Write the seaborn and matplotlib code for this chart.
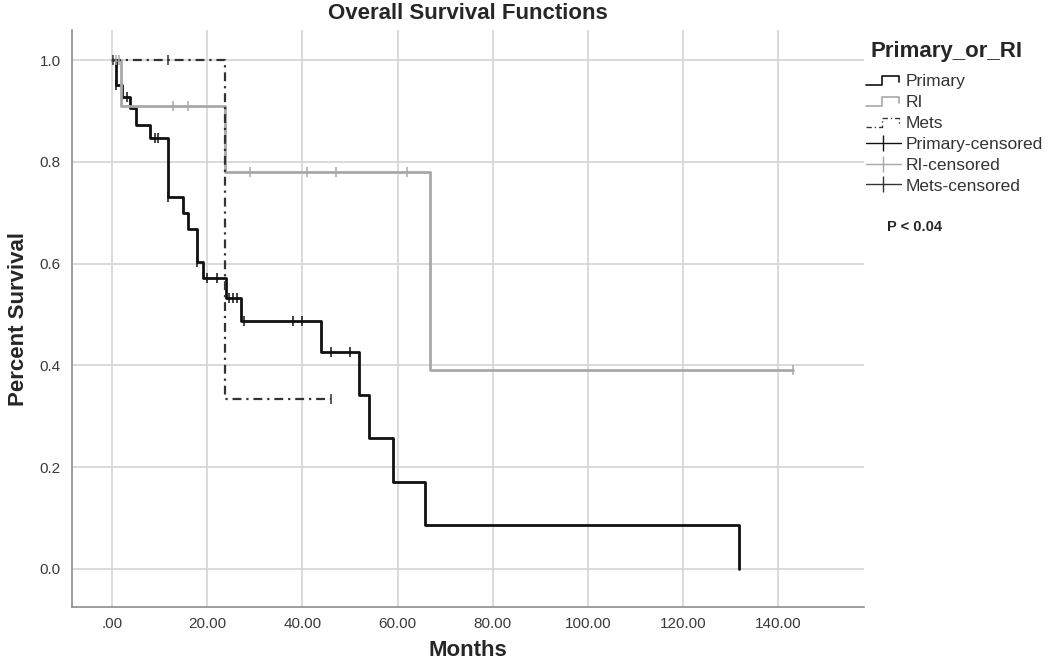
import numpy as np
import pandas as pd
import seaborn as sns
import matplotlib.pyplot as plt
from matplotlib.lines import Line2D
from matplotlib.legend_handler import HandlerBase

# Kaplan-Meier steps (time of drop, survival after drop)
primary_times = [0, 0.8, 2.0, 3.8, 5.0, 8.0, 11.8, 14.9, 16.0, 17.9, 19.1, 24.0, 27.1, 43.9, 51.9, 54.0, 59.0, 65.8, 131.7]
primary_surv = [1.0, 0.95, 0.928, 0.905, 0.872, 0.847, 0.73, 0.70, 0.668, 0.603, 0.572, 0.532, 0.487, 0.426, 0.342, 0.257, 0.171, 0.086, 0.0]
primary_censored = [0.8, 3.1, 9.0, 9.7, 11.8, 17.9, 20.0, 22.1, 24.6, 25.4, 26.3, 27.7, 38.0, 39.9, 46.0, 50.0]

ri_times = [0, 1.8, 23.8, 66.8]
ri_surv = [1.0, 0.91, 0.78, 0.39]
ri_censored = [0.9, 1.4, 12.8, 16.0, 29.0, 41.0, 47.0, 62.0, 143.0]

mets_times = [0, 23.8]
mets_surv = [1.0, 0.334]
mets_censored = [0.3, 11.7, 46.0]

x_ticks = [0, 20, 40, 60, 80, 100, 120, 140]
x_tick_labels = ['.00', '20.00', '40.00', '60.00', '80.00', '100.00', '120.00', '140.00']
y_ticks = [0.0, 0.2, 0.4, 0.6, 0.8, 1.0]

sns.set_style('white')
plt.rcParams['font.family'] = ['Liberation Sans', 'DejaVu Sans']


def step_frame(times, surv, censored):
    # extend the last step to the last censored time
    t = list(times)
    s = list(surv)
    if max(censored) > t[-1]:
        t.append(max(censored))
        s.append(s[-1])
    return pd.DataFrame({'Months': t, 'Survival': s})


def censor_frame(times, surv, censored):
    idx = np.searchsorted(times, censored, side='right') - 1
    return pd.DataFrame({'Months': censored, 'Survival': np.array(surv)[idx]})


groups = [
    ('Primary', primary_times, primary_surv, primary_censored, '#111111', '-', 2.0),
    ('RI', ri_times, ri_surv, ri_censored, '#a8a8a8', '-', 2.0),
    ('Mets', mets_times, mets_surv, mets_censored, '#333333', (0, (4.0, 2.2, 1.0, 2.2)), 1.6),
]

fig = plt.figure(figsize=(10.5, 6.61), dpi=100)
ax = fig.add_axes([0.0686, 0.0817, 0.7543, 0.8729])

for name, t, s, c, color, ls, lw in groups:
    sns.lineplot(data=step_frame(t, s, c), x='Months', y='Survival', ax=ax,
                 drawstyle='steps-post', estimator=None, sort=False,
                 color=color, linestyle=ls, linewidth=lw, zorder=3)

for name, t, s, c, color, ls, lw in groups:
    sns.scatterplot(data=censor_frame(t, s, c), x='Months', y='Survival', ax=ax,
                    marker='|', s=60, color=color, linewidth=1.1, zorder=4)

ax.set_xlim(-8.4, 158)
ax.set_ylim(-0.075, 1.059)
ax.set_xticks(x_ticks)
ax.set_xticklabels(x_tick_labels)
ax.set_yticks(y_ticks)
ax.set_yticklabels([f'{v:.1f}' for v in y_ticks])
ax.grid(True, color='#d4d4d4', linewidth=1.2)
ax.set_axisbelow(True)
ax.tick_params(axis='both', length=0, labelcolor='#3a3a3a', labelsize=11)
ax.tick_params(axis='x', pad=7)
ax.tick_params(axis='y', pad=8)
for side in ['top', 'right']:
    ax.spines[side].set_visible(False)
for side in ['left', 'bottom']:
    ax.spines[side].set_color('#8c8c8c')
    ax.spines[side].set_linewidth(1.2)

ax.set_title('Overall Survival Functions', fontsize=16, fontweight='bold', pad=8)
ax.set_xlabel('Months', fontsize=16, fontweight='bold', labelpad=7)
ax.set_ylabel('Percent Survival', fontsize=16, fontweight='bold', labelpad=8)


class StepHandler(HandlerBase):
    def __init__(self, color, ls, lw):
        super().__init__()
        self.color, self.ls, self.lw = color, ls, lw

    def create_artists(self, legend, orig_handle, xdescent, ydescent, width, height, fontsize, trans):
        x = [0, 0.45 * width, 0.45 * width, 0.95 * width, 0.95 * width]
        y = [0.1 * height, 0.1 * height, 0.85 * height, 0.85 * height, 0.35 * height]
        ln = Line2D(np.array(x) - xdescent, np.array(y) - ydescent, color=self.color,
                    linestyle=self.ls, linewidth=self.lw * 0.6, transform=trans)
        return [ln]


step_handles = [Line2D([], []) for _ in range(3)]
handler_map = {h: StepHandler(g[4], g[5], g[6]) for h, g in zip(step_handles, groups)}
cens_handles = [Line2D([], [], color=g[4], linewidth=1.0, marker='|', markersize=12,
                       markeredgewidth=1.0) for g in groups]
labels = ['Primary', 'RI', 'Mets', 'Primary-censored', 'RI-censored', 'Mets-censored']

fig.text(871 / 1050, 1 - 52 / 661, 'Primary_or_RI', fontsize=16, fontweight='bold',
         va='center', ha='left')
leg = ax.legend(step_handles + cens_handles, labels, handler_map=handler_map,
                loc='upper left', bbox_to_anchor=(866 / 1050, 1 - 74 / 661),
                bbox_transform=fig.transFigure,
                frameon=False, fontsize=12.5, labelspacing=0.33, handlelength=2.0,
                handletextpad=0.3, borderaxespad=0.0, borderpad=0.0, labelcolor='#333333')

fig.text(0.845, 0.657, 'P < 0.04', fontsize=10.5, fontweight='bold', va='center', ha='left')

fig.savefig('out.png', dpi=100)
